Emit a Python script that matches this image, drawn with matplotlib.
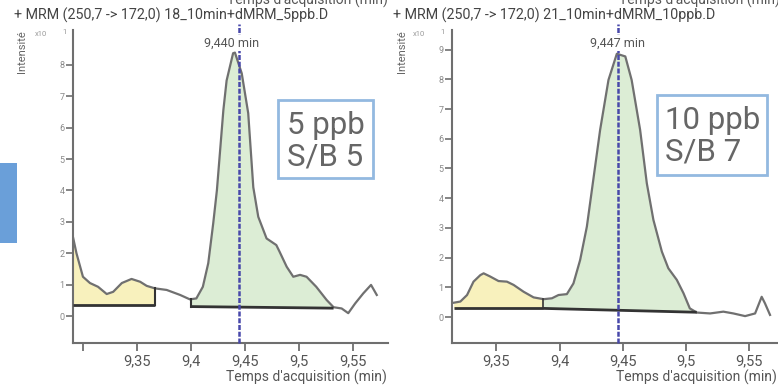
import numpy as np
import matplotlib
matplotlib.use("Agg")
import matplotlib.pyplot as plt
from matplotlib.patches import Rectangle

plt.rcParams['font.family'] = ['Roboto', 'DejaVu Sans']

# ---------------- data ----------------
titles = ["+ MRM (250,7 -> 172,0) 18_10min+dMRM_5ppb.D",
          "+ MRM (250,7 -> 172,0) 21_10min+dMRM_10ppb.D"]
peak_labels = ["9,440 min", "9,447 min"]
peak_line_x = [9.4445, 9.446]
peak_label_x = [9.438, 9.4455]
box_texts = ["5 ppb\nS/B 5", "10 ppb\nS/B 7"]

# left panel (5 ppb) chromatogram, intensity x10^1
x5 = [9.291, 9.294, 9.300, 9.3065, 9.314, 9.322, 9.328, 9.336, 9.345, 9.353,
      9.359, 9.3667, 9.3775, 9.390, 9.399, 9.405, 9.411, 9.416, 9.4206, 9.424,
      9.430, 9.433, 9.439, 9.4407, 9.447, 9.453, 9.4577, 9.4623, 9.470, 9.479,
      9.482, 9.4886, 9.4947, 9.501, 9.507, 9.516, 9.5256, 9.532, 9.5395, 9.5456,
      9.552, 9.5595, 9.5667, 9.572]
y5 = [2.48, 2.0, 1.25, 1.05, 0.93, 0.70, 0.77, 1.05, 1.18, 1.09,
      0.96, 0.88, 0.83, 0.67, 0.53, 0.56, 0.93, 1.68, 2.95, 4.0,
      6.56, 7.5, 8.37, 8.39, 7.73, 6.46, 4.1, 3.16, 2.47, 2.26,
      2.05, 1.57, 1.25, 1.31, 1.25, 0.93, 0.51, 0.28, 0.24, 0.09,
      0.40, 0.72, 0.99, 0.67]
# integration regions: (start, end, baseline at start, baseline at end)
noise5 = (9.291, 9.3667, 0.35, 0.35)
peak5 = (9.400, 9.532, 0.30, 0.25)

# right panel (10 ppb)
x10 = [9.3163, 9.3216, 9.3269, 9.332, 9.3374, 9.340, 9.3453, 9.3518, 9.3584, 9.3637,
       9.3716, 9.3795, 9.3874, 9.394, 9.3992, 9.4058, 9.411, 9.4163, 9.4216, 9.4256,
       9.4321, 9.4387, 9.4453, 9.452, 9.457, 9.4637, 9.469, 9.4742, 9.4809, 9.486,
       9.4927, 9.498, 9.503, 9.5085, 9.519, 9.5295, 9.5374, 9.5467, 9.5546, 9.5598,
       9.5624, 9.5664]
y10 = [0.48, 0.52, 0.74, 1.19, 1.41, 1.47, 1.36, 1.21, 1.19, 1.08,
       0.85, 0.66, 0.60, 0.63, 0.74, 0.77, 1.13, 1.92, 3.04, 4.28,
       6.30, 7.98, 8.86, 8.77, 7.98, 6.30, 4.5, 3.27, 2.2, 1.64,
       1.25, 0.80, 0.29, 0.15, 0.12, 0.18, 0.12, 0.03, 0.12, 0.68,
       0.46, 0.07]
noise10 = (9.3163, 9.387, 0.29, 0.29)
peak10 = (9.387, 9.5085, 0.29, 0.16)

xticks_val = [[9.30, 9.35, 9.40, 9.45, 9.50, 9.55], [9.35, 9.40, 9.45, 9.50, 9.55]]
xticks_lab = [["", "9,35", "9,4", "9,45", "9,5", "9,55"], ["9,35", "9,4", "9,45", "9,5", "9,55"]]
yticks_val = [list(range(0, 9)), list(range(0, 10))]

xlims = [(9.2908, 9.5824), (9.315, 9.5727)]
ylims = [(-0.86, 9.11), (-0.875, 9.66)]

# ---------------- figure ----------------
W, H = 778, 387
fig = plt.figure(figsize=(W / 100, H / 100), dpi=100)
fig.patch.set_facecolor("white")

def fx(px):
    return px / W

def fy(py):
    return 1 - py / H

axes_px = [(73, 388), (452, 778)]
top_px, bot_px = 30, 343

grey = "#6f6f6f"
curves = [(x5, y5, noise5, peak5), (x10, y10, noise10, peak10)]
boxes_px = [(278, 100, 373, 178), (657, 95, 767, 175)]
box_text_x = [287, 665]
box_text_y = [141, 136]
title_x = [14, 393]
top_label_right = [388, 780]
ylabel_x = [22, 402]
x10_x = [35, 413]

def region(x, y, reg):
    a, b, ba, bb = reg
    xs = [a] + [v for v in x if a < v < b] + [b]
    xs = np.array(xs)
    yc = np.interp(xs, x, y)
    base = np.interp(xs, [a, b], [ba, bb])
    return xs, base, yc

for i in range(2):
    l, r = axes_px[i]
    ax = fig.add_axes([fx(l), fy(bot_px), fx(r - l), (bot_px - top_px) / H])
    x, y, noise, peak = curves[i]
    xs, base, yc = region(x, y, noise)
    ax.fill_between(xs, base, yc, color="#f8f1bd", lw=0, zorder=1)
    xs2, base2, yc2 = region(x, y, peak)
    ax.fill_between(xs2, base2, yc2, color="#dcedd5", lw=0, zorder=1)
    ax.plot(x, y, color="#707070", lw=1.6, zorder=3, solid_joinstyle="round")
    # baselines
    for reg in (noise, peak):
        ax.plot([reg[0], reg[1]], [reg[2], reg[3]], color="#333333", lw=2, zorder=4,
                solid_capstyle="butt")
    # vertical boundary lines
    if i == 0:
        ax.plot([noise[1], noise[1]], [noise[3], np.interp(noise[1], x, y)], color="#333333", lw=1.5, zorder=4)
        ax.plot([peak[0], peak[0]], [peak[2], np.interp(peak[0], x, y)], color="#333333", lw=1.5, zorder=4)
    else:
        ax.plot([noise[1], noise[1]], [noise[3], np.interp(noise[1], x, y)], color="#333333", lw=1.2, zorder=4)

    ax.axvline(peak_line_x[i], ymin=0, ymax=1.02, color="#4848aa", lw=1.8,
               ls=(0, (2.0, 0.7)), zorder=5, clip_on=False)
    ax.annotate(peak_labels[i], xy=(peak_label_x[i], (bot_px - 43) / (bot_px - top_px)),
                xycoords=("data", "axes fraction"), ha="center", va="center",
                fontsize=9, color="#555555", zorder=6,
                bbox=dict(boxstyle="square,pad=0.1", fc="white", ec="none"))

    ax.set_xlim(*xlims[i])
    ax.set_ylim(*ylims[i])
    ax.set_xticks(xticks_val[i])
    ax.set_xticklabels(xticks_lab[i])
    ax.set_yticks(yticks_val[i])
    ax.tick_params(axis="x", length=6, width=1.3, color=grey, labelsize=10.5,
                   labelcolor="#555555", pad=2)
    ax.tick_params(axis="y", length=5, width=1.2, color=grey, labelsize=6.5,
                   labelcolor="#8a8a8a", pad=1)
    for s in ("top", "right"):
        ax.spines[s].set_visible(False)
    for s in ("left", "bottom"):
        ax.spines[s].set_color(grey)
        ax.spines[s].set_linewidth(1.5)
    ax.set_facecolor("none")

    # text box
    bx0, by0, bx1, by1 = boxes_px[i]
    fig.patches.append(Rectangle((fx(bx0), fy(by1)), fx(bx1 - bx0), (by1 - by0) / H,
                                 transform=fig.transFigure, fc="white", ec="#93b9e0",
                                 lw=2, zorder=10))
    fig.text(fx(box_text_x[i]), fy(box_text_y[i]), box_texts[i], ha="left",
             va="center", fontsize=22.5, color="#666666", linespacing=1.1, zorder=11)

    # titles and labels
    fig.text(fx(title_x[i]), fy(15), titles[i], ha="left", va="center",
             fontsize=10.3, color="#444444")
    fig.text(fx(top_label_right[i]), fy(5), "Temps d'acquisition (min)", ha="right",
             va="baseline", fontsize=10, color="#555555")
    fig.text(fx(r - 1), fy(377), "Temps d'acquisition (min)", ha="right",
             va="center", fontsize=10, color="#555555")
    fig.text(fx(ylabel_x[i]), fy(52), "Intensité", rotation=90, ha="center",
             va="center", fontsize=8, color="#666666")
    fig.text(fx(x10_x[i]), fy(34), "x10", ha="left", va="center", fontsize=5.5,
             color="#999999")
    fig.text(fx(x10_x[i] + 27), fy(32), "1", ha="left", va="center", fontsize=5.5,
             color="#999999")

# blue tab on left edge
fig.patches.append(Rectangle((0, fy(243)), fx(17), 80 / H, transform=fig.transFigure,
                             fc="#6a9fd9", ec="none"))

fig.savefig("out.png", dpi=100, facecolor="white")
